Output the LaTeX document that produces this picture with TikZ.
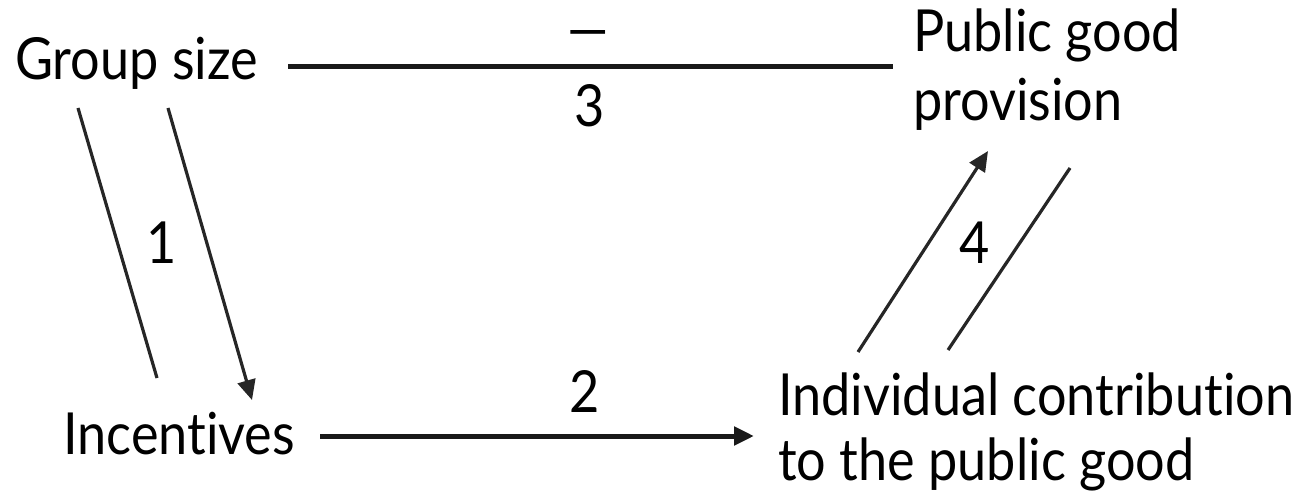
\documentclass[tikz,border=0pt]{standalone}
\usepackage{fontspec}
\setmainfont{Lato}[Ligatures={NoCommon}, FakeStretch=0.9]
\usetikzlibrary{arrows.meta}
\tikzset{
  lbl/.style={font=\fontsize{58}{68}\selectfont, inner sep=0pt, anchor=base west, align=left},
  num/.style={font=\fontsize{58}{68}\selectfont, inner sep=0pt, anchor=base},
  hline/.style={line width=5pt, draw=black!90},
  dline/.style={line width=3.2pt, draw=black!85},
  tip/.style={-{Triangle[length=20pt,width=18pt]}},
}
\begin{document}
\begin{tikzpicture}[x=1pt,y=-1pt]
\useasboundingbox (0,0) rectangle (1305,494);
\node[lbl] (gs) at (15,80) {Group size};
\node[lbl] (pg1) at (913,52) {Public good};
\node[lbl] (pg2) at (913,121) {provision};
\node[lbl] (inc) at (63,454) {Incentives};
\node[lbl] (ic1) at (778,415) {Individual contribution};
\node[lbl] (ic2) at (778,480) {to the public good};
% connector end points
\coordinate (a1) at (288,67);
\coordinate (a2) at (893,67);
\coordinate (b1) at (78,108);
\coordinate (b2) at (157,378);
\coordinate (c1) at (168,108);
\coordinate (c2) at (252,400);
\coordinate (d1) at (320,436);
\coordinate (d2) at (754,436);
\coordinate (e1) at (858,352);
\coordinate (e2) at (988,151);
\coordinate (f1) at (948,350);
\coordinate (f2) at (1070,168);
\draw[hline] (a1) -- (a2);
\draw[dline] (b1) -- (b2);
\draw[dline,tip] (c1) -- (c2);
\draw[hline,tip] (d1) -- (d2);
\draw[dline,tip] (e1) -- (e2);
\draw[dline] (f1) -- (f2);
\node[num] (l3a) at (588,50) {—};
\node[num] (l3b) at (590,127) {3};
\node[num] (l1) at (162,263) {1};
\node[num] (l2) at (585,412) {2};
\node[num] (l4) at (975,263) {4};
\end{tikzpicture}
\end{document}
